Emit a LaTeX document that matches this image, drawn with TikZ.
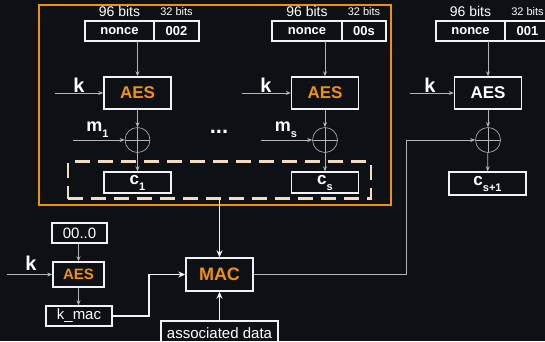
\documentclass[tikz,border=0pt]{standalone}
\usepackage{fontspec}
\setmainfont{Liberation Sans}
\usetikzlibrary{arrows.meta, positioning, fit, backgrounds, calc}
\definecolor{bgdark}{HTML}{0D1014}
\definecolor{aesorange}{HTML}{F39200}
\definecolor{dashpeach}{HTML}{F3DCC0}
\definecolor{wiregrey}{HTML}{B4B4B4}
\definecolor{boxwhite}{HTML}{F2F2F2}
\newcommand{\lowsub}[1]{\raisebox{-6pt}{\fontsize{11}{11}\selectfont #1}}
\tikzset{
  field_box/.style={rectangle, draw=boxwhite, line width=1.4pt, outer sep=0pt, minimum height=20pt, inner sep=0pt, text=white, font=\fontsize{13}{13}\selectfont\bfseries},
  bits_label/.style={text=white, inner sep=0pt, font=\fontsize{14}{14}\selectfont},
  small_bits_label/.style={text=white, inner sep=0pt, font=\fontsize{11}{11}\selectfont},
  aes_block/.style={rectangle, draw=boxwhite, line width=1.4pt, minimum width=67pt, minimum height=32pt, inner sep=0pt, text=aesorange, font=\fontsize{17}{17}\selectfont\bfseries},
  cipher_box/.style={rectangle, draw=boxwhite, line width=1.4pt, minimum width=67pt, minimum height=21pt, inner sep=0pt, text=white, font=\fontsize{17}{17}\selectfont\bfseries},
  xor_op/.style={circle, draw=wiregrey, line width=0.6pt, minimum size=25pt, inner sep=0pt, path picture={\draw[wiregrey, line width=0.6pt] (path picture bounding box.north) -- (path picture bounding box.south) (path picture bounding box.west) -- (path picture bounding box.east);}},
  key_label/.style={text=white, inner sep=0pt, font=\fontsize{20}{20}\selectfont\bfseries},
  msg_label/.style={text=white, inner sep=0pt, font=\fontsize{18}{18}\selectfont\bfseries},
  dots_label/.style={text=white, inner sep=0pt, font=\fontsize{22}{22}\selectfont\bfseries},
  plain_box/.style={rectangle, draw=boxwhite, line width=1.4pt, inner sep=0pt, text=white, font=\fontsize{15}{15}\selectfont},
  mac_block/.style={rectangle, draw=boxwhite, line width=1.4pt, inner sep=0pt, text=aesorange, font=\fontsize{18}{18}\selectfont\bfseries},
  wire/.style={-{Stealth[length=5pt, width=4pt]}, wiregrey, line width=0.7pt},
  mac_wire/.style={-{Stealth[length=7pt, width=6pt]}, boxwhite, line width=1.1pt},
  frame_box/.style={rectangle, draw=aesorange, line width=1.6pt, inner sep=0pt},
  batch_box/.style={rectangle, draw=dashpeach, line width=2.3pt, inner sep=0pt, dash pattern=on 15pt off 8pt}
}

\begin{document}
\begin{tikzpicture}[x=1pt, y=-1pt]
  % --- 0. Canvas ---
  \fill[bgdark] (0,0) rectangle (545,341);
  \useasboundingbox (0,0) rectangle (545,341);

  % --- 1. Frame round the first s blocks, and the batch of ciphertexts ---
  \node[frame_box, minimum width=352pt, minimum height=200pt] (ctr_frame) at (215,105) {};
  \node[batch_box, minimum width=303pt, minimum height=37pt] (batch) at (219.5,180) {};

  % --- 2. Block 1 (counter 002) ---
  \node[field_box, minimum width=69pt] (nonce1) at (119.5,31) {nonce};
  \node[field_box, minimum width=45pt, right=0pt of nonce1] (ctr1) {002};
  \node[bits_label, above=4pt of nonce1] (bits96a) {96 bits};
  \node[small_bits_label, above=5pt of ctr1] (bits32a) {32 bits};
  \node[aes_block] (aes1) at (137.5,93) {AES};
  \node[xor_op] (xor1) at (137.5,140) {};
  \node[cipher_box] (c1) at (137.5,182.5) {c\lowsub{1}};
  \node[key_label, anchor=base] (k1) at (79,92) {k};
  \coordinate (k1_in) at (55,93);
  \node[msg_label, anchor=base] (m1) at (97.5,131) {m\lowsub{1}};
  \coordinate (m1_in) at (73,140);
  \draw[wire] (nonce1.south -| aes1.north) -- (aes1.north);
  \draw[wire] (k1_in) -- (aes1.west);
  \draw[wire] (aes1) -- (xor1);
  \draw[wire] (m1_in) -- (xor1.west);
  \draw[wire] (xor1) -- (c1);

  \node[dots_label, anchor=base] (gap_dots) at (219,133) {...};

  % --- 3. Block s (counter 00s) ---
  \node[field_box, minimum width=70pt] (nonce2) at (307,31) {nonce};
  \node[field_box, minimum width=44pt, right=0pt of nonce2] (ctr2) {00s};
  \node[bits_label, above=4pt of nonce2] (bits96b) {96 bits};
  \node[small_bits_label, above=5pt of ctr2] (bits32b) {32 bits};
  \node[aes_block] (aes2) at (325,93) {AES};
  \node[xor_op] (xor2) at (325,140) {};
  \node[cipher_box] (c2) at (325,182.5) {c\lowsub{s}};
  \node[key_label, anchor=base] (k2) at (266,92) {k};
  \coordinate (k2_in) at (242,93);
  \node[msg_label, anchor=base] (m2) at (286,131) {m\lowsub{s}};
  \coordinate (m2_in) at (261,140);
  \draw[wire] (nonce2.south -| aes2.north) -- (aes2.north);
  \draw[wire] (k2_in) -- (aes2.west);
  \draw[wire] (aes2) -- (xor2);
  \draw[wire] (m2_in) -- (xor2.west);
  \draw[wire] (xor2) -- (c2);

  % --- 4. Block s+1 (counter 001, tag) ---
  \node[field_box, minimum width=69pt] (nonce3) at (470.5,31) {nonce};
  \node[field_box, minimum width=45pt, right=0pt of nonce3] (ctr3) {001};
  \node[bits_label, above=4pt of nonce3] (bits96c) {96 bits};
  \node[small_bits_label, above=5pt of ctr3] (bits32c) {32 bits};
  \node[aes_block, text=white] (aes3) at (488,93) {AES};
  \node[xor_op] (xor3) at (488,140) {};
  \node[cipher_box, minimum width=77pt, minimum height=23pt] (c3) at (487.5,183.5) {c\lowsub{s+1}};
  \node[key_label, anchor=base] (k3) at (430,92) {k};
  \coordinate (k3_in) at (410,93);
  \draw[wire] (nonce3.south -| aes3.north) -- (aes3.north);
  \draw[wire] (k3_in) -- (aes3.west);
  \draw[wire] (aes3) -- (xor3);
  \draw[wire] (xor3) -- (c3);

  % --- 5. MAC key derivation ---
  \node[plain_box, minimum width=55pt, minimum height=20pt] (zeros) at (79.5,233) {00..0};
  \node[mac_block, minimum width=51pt, minimum height=25pt, font=\fontsize{15}{15}\selectfont\bfseries] (aes_mac) at (78.5,274.5) {AES};
  \node[plain_box, minimum width=66pt, minimum height=20pt] (kmac) at (79,316) {k\_mac};
  \node[key_label, anchor=base] (k_mac_key) at (31,270) {k};
  \coordinate (k4_in) at (7,274.5);
  \draw[wire] (zeros.south -| aes_mac.north) -- (aes_mac.north);
  \draw[wire] (k4_in) -- (aes_mac.west);
  \draw[wire] (aes_mac.south) -- (aes_mac.south |- kmac.north);

  % --- 6. MAC ---
  \node[mac_block, minimum width=67pt, minimum height=33pt] (mac) at (219.5,274.5) {MAC};
  \node[plain_box, minimum width=117pt, minimum height=24pt] (assoc) at (219.5,333) {associated data};
  \draw[mac_wire] (batch.south) -- (mac.north);
  \draw[mac_wire] (kmac.east) -- ($(kmac.east)!0.5!(kmac.east -| mac.west)$) |- (mac.west);
  \draw[mac_wire] (assoc.north) -- (mac.south);
  \coordinate (mac_turn) at (406,274.5);
  \draw[wire] (mac.east) -- (mac_turn) |- (xor3.west);
\end{tikzpicture}
\end{document}
